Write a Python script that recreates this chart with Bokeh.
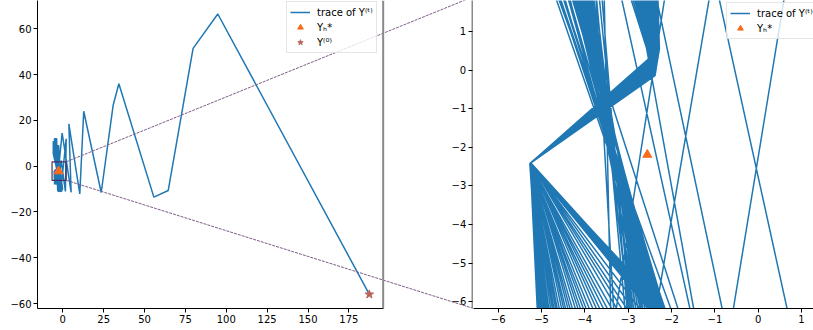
from bokeh.plotting import figure
from bokeh.layouts import row
from bokeh.models import Range1d, FixedTicker, LinearAxis, Legend, LegendItem, Span
from bokeh.embed import file_html
from bokeh.resources import INLINE

# ---------------- data ----------------
# trace of Y^(t): large excursions, then the dense oscillation near the optimum
trace_x = [
    187.5, 94.8, 79.7, 64.5, 55.7, 34.3, 30.8, 23.5, 12.8, 10.4, 3.7, 5.1,
    -0.4, -3.39, -3.74, -5.15, -1.0, 2.08, 1.61, -1.03, -3.09, -4.26, -0.11, -0.84,
    -4.26, -2.68, -4.48, -2.54, -4.70, -2.39, -4.92, -2.25,
    -5.14, -2.10, -5.36, -1.95, -5.58, -1.81, -5.80, -1.66,
    -5.90, -1.51, -5.90, -1.37, -5.90, -1.22, -5.90, -1.07,
    -5.90, -0.93, -5.90, -0.78, -5.90, -0.64, -5.90, -0.49,
    -5.79, -1.95, -5.26, -5.02, -5.26, -4.98, -5.26, -2.28, -2.50,
    -5.71, -1.99, -5.27, -4.94, -5.27, -4.90, -5.27, -2.285, -2.63,
    -5.65, -2.03, -5.25, -4.86, -5.25, -4.82, -5.25, -2.29, -2.76,
    -5.58, -2.07, -5.26, -4.77, -5.26, -4.72, -5.26, -2.295, -2.89,
    -5.52, -2.12, -5.27, -4.67, -5.27, -4.62, -5.27, -2.30, -3.02,
    -5.45, -2.17, -5.25, -4.57, -5.25, -4.51, -5.25, -2.305, -3.15,
    -5.40, -2.22, -5.26, -4.45, -5.26, -4.39, -5.26, -2.31, -3.28,
    -5.33, -2.27, -5.27, -4.33, -5.27, -4.26, -5.27, -2.315, -3.41,
    -5.28, -2.32, -5.25, -4.19, -5.25, -4.12, -5.25, -2.32, -3.54,
    -5.21, -2.37, -5.26, -4.05, -5.26, -3.97, -5.26, -2.325, -3.67,
    -5.16, -2.42, -5.27, -3.89, -5.27, -3.81, -5.27, -2.33, -3.80,
    -5.10, -2.46, -5.25, -3.72, -5.25, -3.63, -5.25, -2.335, -3.93,
    -5.05, -2.50, -5.26, -3.54, -5.26, -3.44, -5.26, -2.34, -4.06,
    -4.99, -2.54, -5.27, -3.34, -5.27, -3.23, -5.27, -2.345, -4.19,
    -4.94, -2.58, -5.25, -3.12, -5.25, -3.00, -5.25, -2.35, -4.32,
    -4.88, -2.62, -5.26, -2.88, -5.26, -2.75, -5.26, -2.355, -4.45,
    -4.83, -2.66, -5.27, -2.61, -5.27, -2.46, -5.27, -2.36, -4.58,
    -4.77, -2.69, -5.25, -2.30, -5.25, -2.13, -5.25, -2.365, -4.71,
    -4.72, -2.72, -5.26, -1.95, -5.26, -1.75, -5.26, -2.37, -4.84,
    -4.67, -2.75, -5.27, -1.50, -5.27, -1.20, -5.27, -2.375, -4.97,
]
trace_y = [
    -56.0, 66.5, 51.5, -10.6, -13.5, 36.0, 26.6, -11.5, 24.0, -12.1, 18.5, -11.4,
    14.5, -7.0, 12.0, 12.0, -9.1, 12.0, -11.0, 2.5, -11.0, 12.0, -10.0, -10.2,
    11.0, -11.0, 11.0, -10.8, 11.0, -11.2, 11.0, -10.9,
    11.0, -11.1, 11.0, -10.7, 11.0, -11.3, 11.0, -11.0,
    10.44, -10.8, 9.48, -11.2, 8.66, -10.9, 7.95, -11.1,
    7.33, -10.7, 6.78, -11.0, 6.29, -11.2, 5.85, -10.9,
    7.5, -7.00, -2.41, -8.0, -2.41, -8.0, -2.41, 0.54, 9.0,
    7.5, -6.93, -2.42, -8.0, -2.42, -8.0, -2.42, 0.50, 9.0,
    7.5, -6.86, -2.40, -8.0, -2.40, -8.0, -2.40, 0.47, 9.0,
    7.5, -6.78, -2.41, -8.0, -2.41, -8.0, -2.41, 0.43, 9.0,
    7.5, -6.68, -2.42, -8.0, -2.42, -8.0, -2.42, 0.40, 9.0,
    7.5, -6.58, -2.40, -8.0, -2.40, -8.0, -2.40, 0.36, 9.0,
    7.5, -6.48, -2.41, -8.0, -2.41, -8.0, -2.41, 0.33, 9.0,
    7.5, -6.38, -2.42, -8.0, -2.42, -8.0, -2.42, 0.29, 9.0,
    7.5, -6.28, -2.40, -8.0, -2.40, -8.0, -2.40, 0.26, 9.0,
    7.5, -6.19, -2.41, -8.0, -2.41, -8.0, -2.41, 0.22, 9.0,
    7.5, -6.10, -2.42, -8.0, -2.42, -8.0, -2.42, 0.19, 9.0,
    7.5, -6.02, -2.40, -8.0, -2.40, -8.0, -2.40, 0.15, 9.0,
    7.5, -5.94, -2.41, -8.0, -2.41, -8.0, -2.41, 0.12, 9.0,
    7.5, -5.86, -2.42, -8.0, -2.42, -8.0, -2.42, 0.08, 9.0,
    7.5, -5.78, -2.40, -8.0, -2.40, -8.0, -2.40, 0.05, 9.0,
    7.5, -5.70, -2.41, -8.0, -2.41, -8.0, -2.41, 0.01, 9.0,
    7.5, -5.62, -2.42, -8.0, -2.42, -8.0, -2.42, -0.03, 9.0,
    7.5, -5.56, -2.40, -8.0, -2.40, -8.0, -2.40, -0.06, 9.0,
    7.5, -5.50, -2.41, -8.0, -2.41, -8.0, -2.41, -0.10, 9.0,
    7.5, -5.45, -2.42, -8.0, -2.42, -8.0, -2.42, -0.14, 9.0,
]
opt_x = [-2.56]       # Y_h^*
opt_y = [-2.19]
init_x = [187.5]      # Y^(0)
init_y = [-56.0]

left_xticks = [0, 25, 50, 75, 100, 125, 150, 175]
left_yticks = [-60, -40, -20, 0, 20, 40, 60]
right_xticks = [-6, -5, -4, -3, -2, -1, 0, 1]
right_yticks = [-6, -5, -4, -3, -2, -1, 0, 1]

zoom_box_x = [-6.57, 2.08]    # region shown in the right panel
zoom_box_y = [-6.17, 1.9]

label_trace = "trace of Y\u207d\u1d57\u207e"
label_opt = "Y\u2095*"
label_init = "Y\u207d\u2070\u207e"

# ---------------- styling / geometry ----------------
BLUE = "#1f77b4"
ORANGE = "#f96a1b"
STAR = "#b8635a"
LINK = "#7d5d87"
BOX = "#4b3060"
SPINE_GRAY = "#8a8a8a"
FONT = "DejaVu Sans"

H = 330
MB = 22
F_Y0, F_H = 0, H - MB

# left figure: its frame reaches the right panel's spine (gap shows connectors)
LW, L_ML, L_MR = 473, 37, 1
LF_X0, LF_W = L_ML, LW - L_ML - L_MR
# right figure: frame only
RW = 813 - LW
RF_X0, RF_W = LW, RW

L_XR = (-15.47, 250.6)
L_YR = (-62.17, 72.39)
L_SPINE_X = 195.96           # end of the left panel's own x-extent
R_XR = (zoom_box_x[0], 1.276)
R_YR = (zoom_box_y[0], 1.80)


def to_px(x, y, xr, yr, x0, w):
    return (x0 + (x - xr[0]) / (xr[1] - xr[0]) * w,
            F_Y0 + (yr[1] - y) / (yr[1] - yr[0]) * F_H)


def from_px(px, py, xr, yr, x0, w):
    return (xr[0] + (px - x0) / w * (xr[1] - xr[0]),
            yr[1] - (py - F_Y0) / F_H * (yr[1] - yr[0]))


def minus(v):
    return str(v).replace("-", "\u2212")


def pad(v):
    # keep right edges aligned when labels are drawn left-aligned
    return minus(v) if v < 0 else "\u2007\u2009" + str(v)


def style_axis(ax, ticks, line_color="#000000", line_width=1, labels=None):
    ax.ticker = FixedTicker(ticks=ticks)
    ax.major_label_overrides = {t: (labels(t) if labels else minus(t)) for t in ticks}
    ax.major_label_text_font = FONT
    ax.major_label_text_font_size = "10px"
    ax.major_label_text_color = "#000000"
    ax.major_tick_out = 4
    ax.major_tick_in = 0
    ax.minor_tick_out = 0
    ax.minor_tick_in = 0
    ax.major_label_standoff = 2
    ax.axis_line_color = line_color
    ax.axis_line_width = line_width
    ax.major_tick_line_color = "#000000"
    ax.major_tick_line_width = 1


def make_fig(w, ml, mr, xr, yr, **kw):
    p = figure(width=w, height=H, x_range=Range1d(*xr), y_range=Range1d(*yr),
               output_backend="svg", toolbar_location=None,
               min_border_left=ml, min_border_right=mr,
               min_border_top=0, min_border_bottom=MB, **kw)
    p.outline_line_color = None
    p.grid.visible = False
    p.background_fill_color = "white"
    p.border_fill_color = "white"
    return p


def make_legend(items, x, top_gap, n):
    h = 6 + 14 * n + (n - 1)
    lg = Legend(items=items, location=(x, F_H - top_gap - h))
    lg.label_text_font = FONT
    lg.label_text_font_size = "10px"
    lg.label_text_color = "#000000"
    lg.glyph_width = 20
    lg.glyph_height = 14
    lg.label_height = 14
    lg.spacing = 1
    lg.padding = 3
    lg.margin = 0
    lg.label_standoff = 7
    lg.border_line_color = "#cccccc"
    lg.border_line_width = 1
    lg.background_fill_color = "white"
    lg.background_fill_alpha = 0.8
    return lg


# ---------------- left panel ----------------
pl = make_fig(LW, L_ML, L_MR, L_XR, L_YR)
pl.extra_y_ranges = {"zoom": Range1d(*R_YR)}
style_axis(pl.xaxis[0], left_xticks)
pl.xaxis[0].bounds = (L_XR[0], L_SPINE_X)
style_axis(pl.yaxis[0], left_yticks)
pl.add_layout(Span(location=L_SPINE_X, dimension="height",
                   line_color=SPINE_GRAY, line_width=2))

# the right panel's y axis (labels drawn to the left of its spine)
zoom_axis = LinearAxis(y_range_name="zoom")
style_axis(zoom_axis, right_yticks, line_color=SPINE_GRAY, line_width=2, labels=pad)
zoom_axis.major_tick_out = 0
zoom_axis.major_tick_in = 4
zoom_axis.major_label_standoff = -21
pl.add_layout(zoom_axis, "right")

lt = pl.line(trace_x, trace_y, line_color=BLUE, line_width=1.5)
lo = pl.scatter(opt_x, opt_y, marker="triangle", size=9, color=ORANGE)
li = pl.scatter(init_x, init_y, marker="star", size=9, color=STAR)
pl.quad(left=[zoom_box_x[0]], right=[zoom_box_x[1]], bottom=[zoom_box_y[0]],
        top=[zoom_box_y[1]], fill_color=None, line_color=BOX, line_width=1.2)

# connectors from the zoom box to the right panel's corners
cx0, cy0, cx1, cy1 = [], [], [], []
for ybox in (zoom_box_y[1], zoom_box_y[0]):
    cor_px = to_px(zoom_box_x[0], ybox, R_XR, R_YR, RF_X0, RF_W)
    end_l = from_px(cor_px[0], cor_px[1], L_XR, L_YR, LF_X0, LF_W)
    cx0.append(zoom_box_x[1]); cy0.append(ybox)
    cx1.append(end_l[0]); cy1.append(end_l[1])
pl.segment(x0=cx0, y0=cy0, x1=cx1, y1=cy1, line_color=LINK, line_width=1,
           line_dash="3 1")

# ---------------- right panel ----------------
pr = make_fig(RW, 0, 0, R_XR, R_YR, y_axis_location=None)
style_axis(pr.xaxis[0], right_xticks)
rt = pr.line(trace_x, trace_y, line_color=BLUE, line_width=1.5)
ro = pr.scatter(opt_x, opt_y, marker="triangle", size=9, color=ORANGE)

pl.add_layout(make_legend([LegendItem(label=label_trace, renderers=[lt]),
                           LegendItem(label=label_opt, renderers=[lo]),
                           LegendItem(label=label_init, renderers=[li])],
                          286 - LF_X0, 3, 3))
pr.add_layout(make_legend([LegendItem(label=label_trace, renderers=[rt]),
                           LegendItem(label=label_opt, renderers=[ro])],
                          726 - RF_X0, 4, 2))

layout = row(pl, pr)
open("out.html", "w").write(file_html(layout, INLINE))
